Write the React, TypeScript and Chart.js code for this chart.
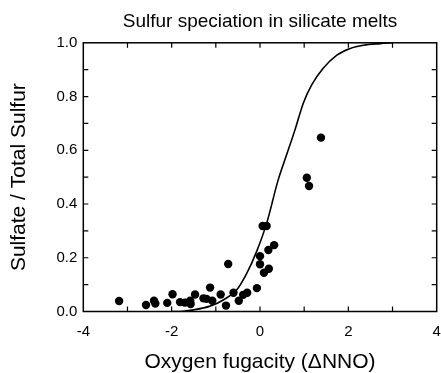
import React, { useEffect, useRef } from "react";
import { Chart, registerables } from "chart.js";

Chart.register(...registerables);

// Measured samples (ΔNNO, sulfate fraction)
const sampleX = [
  -3.19, -2.58, -2.40, -2.37, -2.10, -1.98, -1.81, -1.70, -1.58, -1.57,
  -1.47, -1.28, -1.21, -1.13, -1.08, -0.89, -0.77, -0.72, -0.60, -0.48,
  -0.38, -0.29, -0.07, 0.0, 0.0, 0.09, 0.20, 0.19, 0.32, 0.06,
  0.15, 1.06, 1.11, 1.38,
];
const sampleY = [
  0.039, 0.024, 0.040, 0.030, 0.032, 0.064, 0.035, 0.033, 0.040, 0.028,
  0.063, 0.049, 0.047, 0.089, 0.040, 0.063, 0.022, 0.177, 0.070, 0.040,
  0.062, 0.070, 0.087, 0.206, 0.176, 0.144, 0.159, 0.229, 0.247, 0.318,
  0.318, 0.498, 0.467, 0.647,
];

// Model curve
const curveX = [
  -2.0, -1.81, -1.51, -1.13, -0.83, -0.53, -0.30, -0.08, 0.15, 0.41,
  0.60, 0.79, 0.98, 1.17, 1.43, 1.74, 2.04, 2.34, 2.72, 3.0,
];
const curveY = [
  0.0, 0.0, 0.006, 0.020, 0.043, 0.080, 0.142, 0.222, 0.328, 0.489,
  0.582, 0.675, 0.775, 0.843, 0.905, 0.954, 0.979, 0.991, 0.997, 1.0,
];

const titleText = "Sulfur speciation in silicate melts";
const xTitle = "Oxygen fugacity (\u0394NNO)";
const yTitle = "Sulfate / Total Sulfur";

const FONT = "'Liberation Sans', Arial, Helvetica, sans-serif";

const frameTicks = {
  id: "frameTicks",
  afterDatasetsDraw(chart: any) {
    const { ctx, chartArea } = chart;
    const { left, right, top, bottom } = chartArea;
    const xs = chart.scales.x;
    const ys = chart.scales.y;
    const len = 5;
    ctx.save();
    ctx.strokeStyle = "#000";
    ctx.lineWidth = 1.5;
    ctx.strokeRect(left, top, right - left, bottom - top);
    ctx.lineWidth = 1.2;
    ctx.beginPath();
    xs.ticks.forEach((t: any) => {
      const px = xs.getPixelForValue(t.value);
      if (px <= left + 1 || px >= right - 1) return;
      ctx.moveTo(px, bottom);
      ctx.lineTo(px, bottom - len);
      ctx.moveTo(px, top);
      ctx.lineTo(px, top + len);
    });
    ys.ticks.forEach((t: any) => {
      const py = ys.getPixelForValue(t.value);
      if (py <= top + 1 || py >= bottom - 1) return;
      ctx.moveTo(left, py);
      ctx.lineTo(left + len, py);
      ctx.moveTo(right, py);
      ctx.lineTo(right - len, py);
    });
    ctx.stroke();
    ctx.restore();
  },
};

export default function App() {
  const ref = useRef<HTMLCanvasElement | null>(null);

  useEffect(() => {
    if (!ref.current) return;
    const samples = sampleX.map((x, i) => ({ x, y: sampleY[i] }));
    const curve = curveX.map((x, i) => ({ x, y: curveY[i] }));
    const chart = new Chart(ref.current, {
      type: "scatter",
      data: {
        datasets: [
          {
            label: "curve",
            data: curve,
            showLine: true,
            borderColor: "#000",
            borderWidth: 1.6,
            pointRadius: 0,
            cubicInterpolationMode: "monotone",
            fill: false,
          },
          {
            label: "samples",
            data: samples,
            backgroundColor: "#000",
            borderColor: "#000",
            pointRadius: 4.2,
            borderWidth: 0,
          },
        ],
      },
      options: {
        responsive: false,
        animation: false,
        layout: { padding: { left: 0, right: 4.3, top: 0, bottom: 0 } },
        plugins: {
          legend: { display: false },
          tooltip: { enabled: false },
          title: {
            display: true,
            text: titleText,
            fullSize: false,
            color: "#000",
            font: { family: FONT, size: 19, weight: "normal", lineHeight: 1.2 },
            padding: { top: 10, bottom: 10 },
          },
        },
        scales: {
          x: {
            type: "linear",
            min: -4,
            max: 4,
            grid: { display: false, drawTicks: false },
            border: { display: false },
            afterFit: (s: any) => {
              s.height = 61.5;
              s.paddingLeft = 0;
              s.paddingRight = 0;
            },
            ticks: {
              stepSize: 1,
              padding: 11,
              color: "#000",
              maxRotation: 0,
              autoSkip: false,
              font: { family: FONT, size: 15 },
              callback: (v: any) => {
                const n = Math.round(Number(v));
                return n % 2 === 0 ? String(n) : "";
              },
            },
            title: {
              display: true,
              text: xTitle,
              color: "#000",
              font: { family: FONT, size: 21, lineHeight: 1 },
              padding: { top: 0, bottom: 0 },
            },
          },
          y: {
            type: "linear",
            min: 0,
            max: 1,
            grid: { display: false, drawTicks: false },
            border: { display: false },
            afterFit: (s: any) => {
              s.width = 83.3;
              s.paddingTop = 0;
              s.paddingBottom = 0;
            },
            ticks: {
              stepSize: 0.1,
              padding: 6,
              color: "#000",
              autoSkip: false,
              font: { family: FONT, size: 15 },
              callback: (v: any) => {
                const n = Math.round(Number(v) * 10);
                return n % 2 === 0 ? (n / 10).toFixed(1) : "";
              },
            },
            title: {
              display: true,
              text: yTitle,
              color: "#000",
              font: { family: FONT, size: 21, lineHeight: 1 },
              padding: { top: 8.5, bottom: 0 },
            },
          },
        },
      },
      plugins: [frameTicks],
    } as any);
    return () => chart.destroy();
  }, []);

  return (
    <div style={{ position: "absolute", left: 0, top: 0, width: 441, height: 373, background: "#fff" }}>
      <canvas ref={ref} width={441} height={373} />
    </div>
  );
}
